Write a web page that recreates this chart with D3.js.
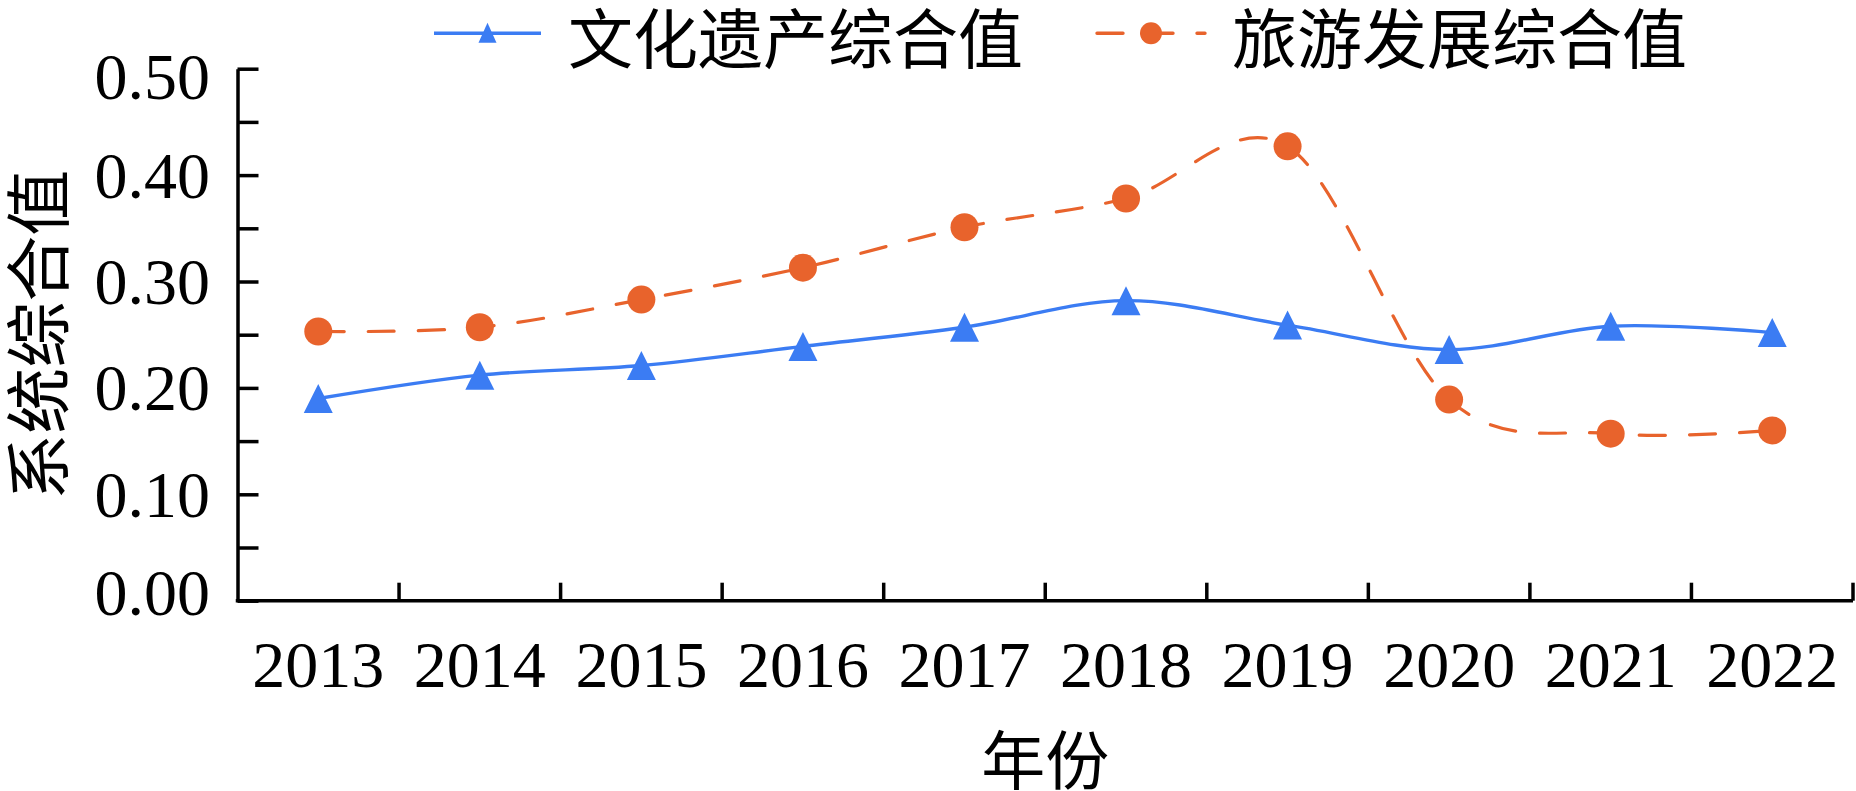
<!DOCTYPE html>
<html>
<head>
<meta charset="utf-8">
<script src="https://cdn.jsdelivr.net/npm/d3@7"></script>
<style>
  html, body { margin: 0; padding: 0; background: #fff; }
  svg { display: block; }
</style>
</head>
<body>
<svg id="chart" width="1856" height="791"></svg>
<script>
// ---- data ----
const years = ["2013","2014","2015","2016","2017","2018","2019","2020","2021","2022"];
const heritageValues = [0.190, 0.212, 0.221, 0.239, 0.257, 0.282, 0.259, 0.236, 0.258, 0.252];
const tourismValues  = [0.253, 0.257, 0.283, 0.313, 0.351, 0.378, 0.427, 0.189, 0.157, 0.160];
const seriesNames = ["文化遗产综合值", "旅游发展综合值"];
const yTickValues = [0, 0.05, 0.10, 0.15, 0.20, 0.25, 0.30, 0.35, 0.40, 0.45, 0.50];
const yLabelValues = [0, 0.10, 0.20, 0.30, 0.40, 0.50];
const xTitle = "年份";
const yTitle = "系统综合值";

// ---- layout ----
const plotLeft = 237.5, plotRight = 1853, plotTop = 68.7, plotBottom = 600.7;
const blue = "#3b7cf3", orange = "#e8632c";
const numFont = "'Liberation Serif', 'Times New Roman', serif";
const cjkFont = "'Noto Sans CJK SC', 'Noto Sans', sans-serif";

const svg = d3.select("#chart");
const x = d3.scaleBand().domain(years).range([plotLeft, plotRight]).padding(0);
const y = d3.scaleLinear().domain([0, 0.5]).range([plotBottom, plotTop]);
const cx = d => x(d) + x.bandwidth() / 2;

// ---- y axis ----
const yAxis = d3.axisLeft(y).tickValues(yTickValues).tickSizeInner(-21).tickSizeOuter(0).tickFormat("");
const gy = svg.append("g").attr("transform", `translate(${plotLeft},0)`).call(yAxis);
gy.select(".domain").attr("stroke", "#000").attr("stroke-width", 3.5);
gy.selectAll(".tick line").attr("stroke", "#000").attr("stroke-width", 3.5);

svg.append("g").selectAll("text").data(yLabelValues).join("text")
  .attr("x", 210)
  .attr("y", d => Math.min(Math.max(y(d), 76.3), 592.5) + 22.5)
  .attr("text-anchor", "end")
  .attr("font-family", numFont).attr("font-size", 66).attr("fill", "#000")
  .text(d => d3.format(".2f")(d));

// ---- x axis ----
const xAxis = d3.axisBottom(x).tickSize(0).tickPadding(0).tickFormat("");
const gx = svg.append("g").attr("transform", `translate(0,${plotBottom})`).call(xAxis);
gx.select(".domain").attr("stroke", "#000").attr("stroke-width", 3.5)
  .attr("d", `M${plotLeft - 1.75},0H${plotRight}`);
gx.selectAll(".tick").remove();
svg.append("g").selectAll("line").data(years).join("line")
  .attr("x1", d => x(d) + x.bandwidth()).attr("x2", d => x(d) + x.bandwidth())
  .attr("y1", plotBottom).attr("y2", plotBottom - 18)
  .attr("stroke", "#000").attr("stroke-width", 3.5);

svg.append("g").selectAll("text").data(years).join("text")
  .attr("x", d => cx(d)).attr("y", 687)
  .attr("text-anchor", "middle")
  .attr("font-family", numFont).attr("font-size", 66).attr("fill", "#000")
  .text(d => d);

// ---- titles ----
svg.append("text")
  .attr("x", (plotLeft + plotRight) / 2).attr("y", 756)
  .attr("text-anchor", "middle").attr("dominant-baseline", "central")
  .attr("font-family", cjkFont).attr("font-size", 64).attr("fill", "#000")
  .text(xTitle);

svg.append("text")
  .attr("transform", `translate(34,${(plotTop + plotBottom) / 2}) rotate(-90)`)
  .attr("text-anchor", "middle").attr("dominant-baseline", "central")
  .attr("font-family", cjkFont).attr("font-size", 66).attr("fill", "#000")
  .text(yTitle);

// ---- lines ----
const line = d3.line().x(d => cx(d.year)).y(d => y(d.v)).curve(d3.curveCardinal.tension(0));
const heritage = years.map((yr, i) => ({year: yr, v: heritageValues[i]}));
const tourism = years.map((yr, i) => ({year: yr, v: tourismValues[i]}));

svg.append("path").datum(tourism).attr("d", line)
  .attr("fill", "none").attr("stroke", orange).attr("stroke-width", 3.2)
  .attr("stroke-dasharray", "26,24").attr("stroke-linecap", "round");
svg.append("path").datum(heritage).attr("d", line)
  .attr("fill", "none").attr("stroke", blue).attr("stroke-width", 3.4);

const tri = s => `M0,${-s/2}L${s/2},${s/2}L${-s/2},${s/2}Z`;
svg.append("g").selectAll("path").data(heritage).join("path")
  .attr("transform", d => `translate(${cx(d.year)},${y(d.v)})`)
  .attr("d", tri(29)).attr("fill", blue);
svg.append("g").selectAll("circle").data(tourism).join("circle")
  .attr("cx", d => cx(d.year)).attr("cy", d => y(d.v)).attr("r", 14).attr("fill", orange);

// ---- legend ----
const legY = 33.3;
const legends = [
  {name: seriesNames[0], color: blue, x0: 434, x1: 541, tx: 568, marker: "tri", dash: null},
  {name: seriesNames[1], color: orange, x0: 1097, x1: 1205, tx: 1232, marker: "circle", dash: "26,24"}
];
legends.forEach(l => {
  const g = svg.append("g");
  g.append("line").attr("x1", l.x0).attr("x2", l.x1).attr("y1", legY).attr("y2", legY)
    .attr("stroke", l.color).attr("stroke-width", 3.4)
    .attr("stroke-dasharray", l.dash).attr("stroke-linecap", l.dash ? "round" : "butt");
  const mx = (l.x0 + l.x1) / 2;
  if (l.marker === "tri") {
    g.append("path").attr("transform", `translate(${mx},${legY - 0.5})`)
      .attr("d", `M0,-10L9,10L-9,10Z`).attr("fill", l.color);
  } else {
    g.append("circle").attr("cx", mx).attr("cy", legY).attr("r", 11).attr("fill", l.color);
  }
  g.append("text").attr("x", l.tx).attr("y", 35)
    .attr("dominant-baseline", "central")
    .attr("font-family", cjkFont).attr("font-size", 65).attr("fill", "#000")
    .text(l.name);
});
</script>
</body>
</html>
